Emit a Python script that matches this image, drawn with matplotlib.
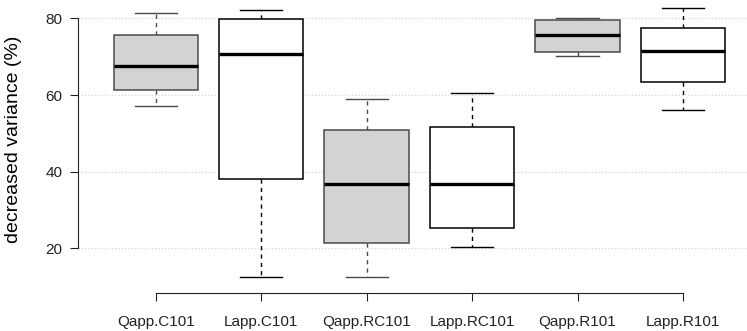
import matplotlib
matplotlib.use("Agg")
import matplotlib.pyplot as plt

categories = ["Qapp.C101", "Lapp.C101", "Qapp.RC101", "Lapp.RC101", "Qapp.R101", "Lapp.R101"]
whis_lo = [57.1, 12.6, 12.4, 20.2, 70.3, 56.1]
q1      = [61.3, 38.2, 21.4, 25.3, 71.1, 63.3]
median  = [67.5, 70.8, 36.7, 36.7, 75.6, 71.5]
q3      = [75.6, 79.9, 50.8, 51.6, 79.6, 77.5]
whis_hi = [81.3, 82.1, 58.9, 60.6, 80.2, 82.6]
y_ticks = [20, 40, 60, 80]

plt.rcParams['font.family'] = ['Liberation Sans', 'DejaVu Sans']

W, H = 747, 331
fig = plt.figure(figsize=(W / 100, H / 100), dpi=100)
left_px, right_px, bottom_px, top_px = 77.7, 747, 292.7, 0
ax = fig.add_axes([left_px / W, 1 - bottom_px / H, (right_px - left_px) / W, (bottom_px - top_px) / H])

stats = []
for i, c in enumerate(categories):
    stats.append(dict(label=c, med=median[i], q1=q1[i], q3=q3[i],
                      whislo=whis_lo[i], whishi=whis_hi[i], fliers=[]))

positions = list(range(1, len(categories) + 1))
bp = ax.bxp(stats, positions=positions, widths=0.8, patch_artist=True,
            showfliers=False, manage_ticks=False)

for i, c in enumerate(categories):
    q = c.startswith("Qapp")
    edge = "#4a4a4a" if q else "black"
    face = "#d3d3d3" if q else "white"
    box = bp['boxes'][i]
    box.set_facecolor(face)
    box.set_edgecolor(edge)
    box.set_linewidth(1.1)
    box.set_zorder(3)
    for w in bp['whiskers'][2 * i:2 * i + 2]:
        w.set_color(edge)
        w.set_linewidth(1.0)
        w.set_linestyle((0, (3, 3)))
        w.set_zorder(2)
    for cp in bp['caps'][2 * i:2 * i + 2]:
        cp.set_color(edge)
        cp.set_linewidth(1.0)
        cp.set_zorder(2)
    m = bp['medians'][i]
    m.set_color("black")
    m.set_linewidth(2.4)
    m.set_zorder(4)

ax.set_xlim(0.26, 1 + (747 - 156) / 105.4)
ax.set_ylim(8.4, 84.8)

for s in ['top', 'right']:
    ax.spines[s].set_visible(False)
ax.spines['left'].set_bounds(20, 80)
ax.spines['bottom'].set_bounds(1, 6)
for s in ['left', 'bottom']:
    ax.spines[s].set_linewidth(0.8)
    ax.spines[s].set_color("#222222")

ax.set_yticks(y_ticks)
ax.set_yticklabels([str(v) for v in y_ticks])
ax.set_xticks(positions)
ax.set_xticklabels(categories)
ax.tick_params(axis='y', direction='out', length=6, width=0.8, pad=5, labelsize=11, colors="#222222")
ax.tick_params(axis='x', direction='out', length=6, width=0.8, pad=10, labelsize=11, colors="#222222")

ax.yaxis.grid(True, linestyle=(0, (1, 2)), color="#d0d0d0", linewidth=0.8)
ax.set_axisbelow(True)

ax.set_ylabel("decreased variance (%)", fontsize=14)
ax.yaxis.set_label_coords((22 - left_px) / (right_px - left_px), (bottom_px - 139) / bottom_px)

fig.savefig("out.png", dpi=100)
